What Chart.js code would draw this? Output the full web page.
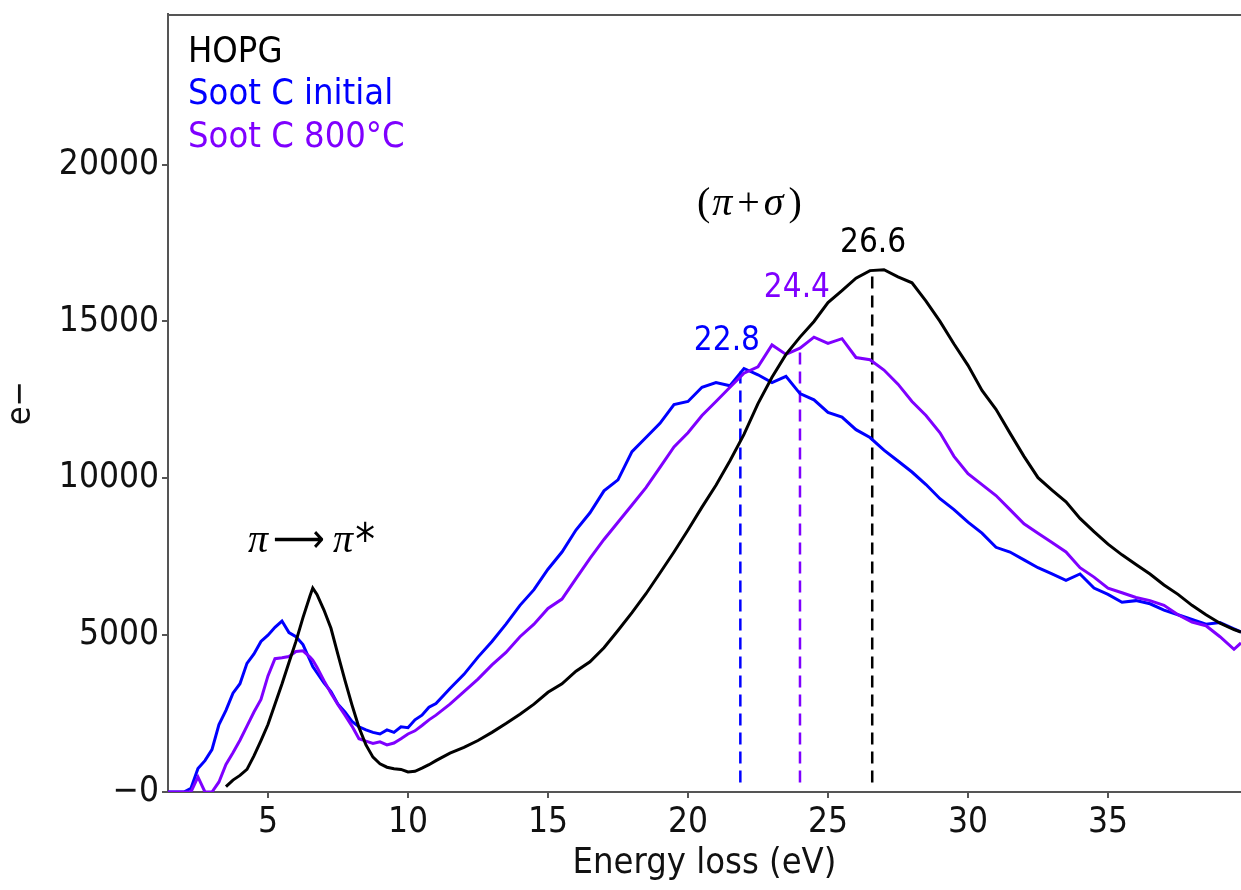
<!DOCTYPE html>
<html>
<head>
<meta charset="utf-8">
<script src="https://cdn.jsdelivr.net/npm/chart.js@4.4.0/dist/chart.umd.min.js"></script>
<style>
  html, body { margin: 0; background: #fff; }
  #wrap { width: 1241px; height: 890px; position: relative; }
</style>
</head>
<body>
<div id="wrap"><canvas id="eels"></canvas></div>
<script>
// energy grid (eV), finer where the plasmon peaks are sharp
const energy = [
  1.4, 1.75, 2, 2.25, 2.5, 2.75, 3, 3.25, 3.5, 3.75, 4, 4.25, 4.5, 4.75, 5, 5.25, 5.5, 5.75, 6, 6.25,
  6.5, 6.6, 6.75, 7, 7.25, 7.5, 7.75, 8, 8.25, 8.5, 8.75, 9, 9.25, 9.5, 9.75, 10, 10.25, 10.5, 10.75, 11,
  11.5, 12, 12.5, 13, 13.5, 14, 14.5, 15, 15.5, 16, 16.5, 17, 17.5, 18, 18.5, 19, 19.5, 20, 20.5, 21,
  21.5, 22, 22.5, 23, 23.5, 24, 24.5, 25, 25.5, 26, 26.5, 27, 27.5, 28, 28.5, 29, 29.5, 30, 30.5, 31,
  31.5, 32, 32.5, 33, 33.5, 34, 34.5, 35, 35.5, 36, 36.5, 37, 37.5, 38, 38.5, 39, 39.5, 39.75
];

const hopg = [
  null, null, null, null, null, null, null, null, 170, 380, 530, 720, 1150, 1640, 2150, 2800, 3440, 4130, 4800, 5560,
  6250, 6500, 6300, 5800, 5220, 4380, 3560, 2780, 2060, 1500, 1110, 900, 790, 740, 720, 640, 660, 760, 870, 1000,
  1240, 1420, 1640, 1900, 2180, 2480, 2800, 3180, 3450, 3850, 4150, 4600, 5150, 5720, 6320, 6980, 7650, 8350, 9080, 9780,
  10560, 11400, 12380, 13220, 13950, 14500, 15000, 15600, 15980, 16380, 16620, 16650, 16420, 16230, 15650, 15000, 14280, 13600, 12800, 12200,
  11440, 10700, 10020, 9620, 9250, 8720, 8300, 7900, 7560, 7250, 6950, 6600, 6300, 5950, 5650, 5380, 5180, 5100
];

const sootInitial = [
  0, 0, 0, 120, 750, 1000, 1350, 2150, 2600, 3150, 3450, 4100, 4400, 4800, 5000, 5250, 5450, 5080, 4950, 4700,
  4200, 4000, 3800, 3480, 3200, 2800, 2550, 2250, 2080, 1980, 1900, 1850, 1980, 1900, 2080, 2050, 2300, 2450, 2700, 2820,
  3300, 3750, 4300, 4800, 5350, 5950, 6450, 7100, 7650, 8350, 8900, 9600, 9950, 10850, 11300, 11750, 12350, 12450, 12900, 13050,
  12950, 13500, 13300, 13050, 13250, 12700, 12500, 12100, 11950, 11550, 11300, 10900, 10550, 10200, 9800, 9350, 9000, 8600, 8250, 7800,
  7650, 7400, 7150, 6950, 6750, 6950, 6500, 6300, 6050, 6100, 6000, 5800, 5650, 5500, 5350, 5400, 5200, 5100
];

const soot800 = [
  0, 0, 0, 0, 480, 0, 0, 320, 880, 1250, 1650, 2100, 2550, 2950, 3700, 4250, 4280, 4320, 4480, 4500,
  4300, 4200, 3980, 3550, 3150, 2780, 2450, 2100, 1700, 1620, 1550, 1600, 1500, 1560, 1700, 1850, 1950, 2120, 2300, 2450,
  2800, 3200, 3600, 4050, 4450, 4950, 5350, 5850, 6150, 6800, 7450, 8050, 8600, 9150, 9700, 10350, 11000, 11450, 12000, 12450,
  12900, 13350, 13550, 14250, 13950, 14150, 14500, 14300, 14450, 13850, 13780, 13450, 13000, 12450, 12000, 11450, 10700, 10150, 9800, 9450,
  9000, 8550, 8250, 7950, 7650, 7150, 6850, 6500, 6350, 6200, 6100, 5950, 5650, 5420, 5300, 4950, 4550, 4750
];

const seriesNames = ['HOPG', 'Soot C initial', 'Soot C 800°C'];
const xTicks = [5, 10, 15, 20, 25, 30, 35];
const yTicks = [0, 5000, 10000, 15000, 20000];

// plasmon peak markers: blue, purple, black
const peakEnergy = [21.87, 24.0, 26.58];
const peakTop = [13400, 14100, 16650];
const peakBottom = 300;
const peakLabels = ['22.8', '24.4', '26.6'];

const BLACK = '#000000';
const BLUE = '#0000ff';
const PURPLE = '#7f00ff';
const AXIS = '#555555';
const SANS = "'DejaVu Sans Condensed', 'Liberation Sans', sans-serif";
const SERIF = "'Liberation Serif', 'DejaVu Serif', serif";
const seriesColors = [BLACK, BLUE, PURPLE];
const peakColors = [BLUE, PURPLE, BLACK];

// where the text annotations sit, in data units
const notes = {
  peakText: [{x: 21.39, y: 14100}, {x: 23.89, y: 15790}, {x: 26.61, y: 17225}],
  piStar: {x: 4.29, y: 7650},
  piSigma: {x: 20.32, y: 18400}
};

function toPoints(ys) {
  return energy.map((e, i) => ({x: e, y: ys[i]}));
}

const curveStyle = {borderWidth: 3, pointRadius: 0, tension: 0, fill: false};

const datasets = [
  {label: seriesNames[0], data: toPoints(hopg), borderColor: BLACK, order: 1, ...curveStyle},
  {label: seriesNames[1], data: toPoints(sootInitial), borderColor: BLUE, order: 3, ...curveStyle},
  {label: seriesNames[2], data: toPoints(soot800), borderColor: PURPLE, order: 2, ...curveStyle}
];
peakEnergy.forEach((e, i) => {
  datasets.push({
    label: 'peak ' + peakLabels[i],
    data: [{x: e, y: peakBottom}, {x: e, y: peakTop[i]}],
    borderColor: peakColors[i],
    borderWidth: 2.5,
    borderDash: [12, 7],
    pointRadius: 0,
    order: 4
  });
});

// draw a run of text pieces with their own fonts, left to right
function drawPieces(ctx, x0, yBase, pieces) {
  let cx = x0;
  pieces.forEach(p => {
    ctx.font = p.font;
    const w = ctx.measureText(p.t).width;
    if (p.w) {
      ctx.save();
      ctx.translate(cx, yBase + (p.dy || 0));
      ctx.scale(p.w / w, 1);
      ctx.fillText(p.t, 0, 0);
      ctx.restore();
      cx += p.w;
    } else {
      ctx.fillText(p.t, cx, yBase + (p.dy || 0));
      cx += w;
    }
    cx += p.gap || 0;
  });
}

const textPlugin = {
  id: 'textPlugin',
  afterDraw(chart) {
    const {ctx, chartArea: a} = chart;
    const xs = chart.scales.x, ys = chart.scales.y;
    ctx.save();

    // top frame line
    ctx.strokeStyle = AXIS;
    ctx.lineWidth = 2;
    ctx.beginPath();
    ctx.moveTo(a.left, a.top + 1);
    ctx.lineTo(a.right, a.top + 1);
    ctx.stroke();

    // legend as plain coloured text
    ctx.textAlign = 'left';
    ctx.textBaseline = 'alphabetic';
    ctx.font = '36px ' + SANS;
    seriesNames.forEach((name, i) => {
      ctx.fillStyle = seriesColors[i];
      ctx.fillText(name, a.left + 20, a.top + 47.5 + i * 42.5);
    });

    // peak position labels
    ctx.textAlign = 'center';
    ctx.font = '33px ' + SANS;
    peakLabels.forEach((t, i) => {
      const p = notes.peakText[i];
      ctx.fillStyle = peakColors[i];
      ctx.fillText(t, xs.getPixelForValue(p.x), ys.getPixelForValue(p.y));
    });

    // math annotations
    ctx.textAlign = 'left';
    ctx.fillStyle = BLACK;
    const ital = 'italic 40px ' + SERIF;
    const upright = '40px ' + SERIF;
    drawPieces(ctx, xs.getPixelForValue(notes.piStar.x), ys.getPixelForValue(notes.piStar.y), [
      {t: 'π', font: ital, gap: 5},
      {t: '⟶', font: "40px 'DejaVu Sans'", w: 52, gap: 8},
      {t: 'π', font: ital, gap: 2},
      {t: '*', font: '44px ' + SANS, dy: 3}
    ]);
    drawPieces(ctx, xs.getPixelForValue(notes.piSigma.x), ys.getPixelForValue(notes.piSigma.y), [
      {t: '(', font: upright, gap: 2},
      {t: 'π', font: ital, gap: 5},
      {t: '+', font: upright, gap: 4},
      {t: 'σ', font: ital, gap: 5},
      {t: ')', font: upright}
    ]);
    ctx.restore();
  }
};

const axisGrid = {drawOnChartArea: false, drawTicks: true, tickLength: 6, color: AXIS, lineWidth: 2};

new Chart(document.getElementById('eels'), {
  type: 'line',
  data: {datasets: datasets},
  options: {
    responsive: true,
    maintainAspectRatio: false,
    animation: false,
    layout: {padding: {top: 14, right: 0, left: 0, bottom: 0}},
    plugins: {legend: {display: false}, tooltip: {enabled: false}},
    scales: {
      x: {
        type: 'linear',
        min: 1.43,
        max: 39.75,
        afterBuildTicks: s => { s.ticks = xTicks.map(v => ({value: v})); },
        afterFit: s => { s.height = 98; s.paddingLeft = 0; s.paddingRight = 0; },
        grid: axisGrid,
        border: {color: AXIS, width: 2},
        ticks: {font: {family: SANS, size: 35}, color: '#111', padding: 4, maxRotation: 0, callback: v => String(v)},
        title: {display: true, text: 'Energy loss (eV)', font: {family: SANS, size: 36}, color: '#111', padding: {top: 0, bottom: 5}}
      },
      y: {
        type: 'linear',
        min: 0,
        max: 24800,
        afterBuildTicks: s => { s.ticks = yTicks.map(v => ({value: v})); },
        afterFit: s => { s.width = 168; s.paddingTop = 0; s.paddingBottom = 0; },
        grid: axisGrid,
        border: {color: AXIS, width: 2},
        ticks: {font: {family: SANS, size: 35}, color: '#111', padding: 3, callback: v => v === 0 ? '−0' : String(v)},
        title: {display: true, text: 'e−', font: {family: SANS, size: 34}, color: '#111', padding: {top: 1, bottom: 0}}
      }
    }
  },
  plugins: [textPlugin]
});
</script>
</body>
</html>
